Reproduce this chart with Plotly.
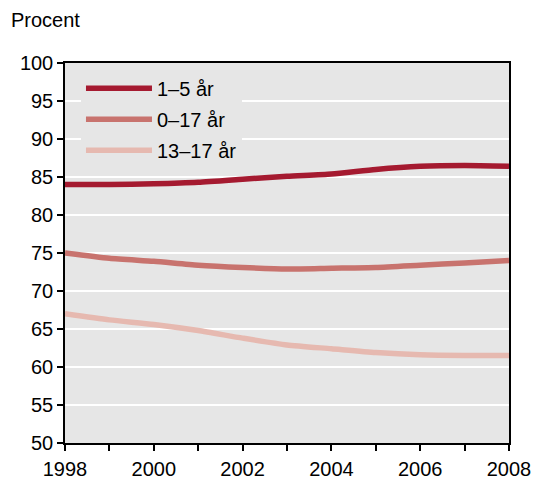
import plotly.graph_objects as go

years = [1998, 1999, 2000, 2001, 2002, 2003, 2004, 2005, 2006, 2007, 2008]
age_1_5 = [84.0, 84.0, 84.1, 84.3, 84.7, 85.1, 85.4, 86.0, 86.4, 86.5, 86.4]
age_0_17 = [75.0, 74.3, 73.9, 73.4, 73.1, 72.9, 73.0, 73.1, 73.4, 73.7, 74.0]
age_13_17 = [67.0, 66.2, 65.6, 64.8, 63.8, 62.9, 62.4, 61.9, 61.6, 61.5, 61.5]
series_names = ["1–5 år", "0–17 år", "13–17 år"]
colors = ["#A51A30", "#C8736E", "#E6B9B0"]
y_ticks = [50, 55, 60, 65, 70, 75, 80, 85, 90, 95, 100]
x_ticktext = [str(y) if y % 2 == 0 else "" for y in years]

fig = go.Figure()
for name, vals, col in zip(series_names, [age_1_5, age_0_17, age_13_17], colors):
    fig.add_trace(go.Scatter(x=years, y=vals, name=name, mode="lines", legendgroup=name,
                             line=dict(color=col, width=5.5, shape="spline", smoothing=0.6)))

font = dict(family="Liberation Sans, Arial, sans-serif", size=20, color="#000000")
fig.update_layout(
    width=534, height=481,
    autosize=False,
    margin=dict(l=65, r=25, t=63, b=38, autoexpand=False),
    paper_bgcolor="white",
    plot_bgcolor="#E6E6E6",
    font=font,
    showlegend=True,
    legend=dict(x=0.036, y=0.985, xanchor="left", yanchor="top",
                bgcolor="#E6E6E6", font=font, traceorder="grouped", tracegroupgap=2,
                itemwidth=66),
    xaxis=dict(range=[1998, 2008], tickmode="array", tickvals=years, ticktext=x_ticktext,
               automargin=False, ticklabelstandoff=1,
               showgrid=False, zeroline=False, showline=True, linecolor="black", linewidth=1.5,
               mirror=True, ticks="outside", ticklen=6, tickcolor="black", tickwidth=1.5,
               tickfont=font),
    yaxis=dict(range=[50, 100], tickmode="array", tickvals=y_ticks,
               automargin=False,
               showgrid=True, gridcolor="white", gridwidth=2, zeroline=False,
               showline=True, linecolor="black", linewidth=1.5, mirror=True,
               ticks="outside", ticklen=6, tickcolor="black", tickwidth=1.5,
               tickfont=font),
    annotations=[dict(text="Procent", xref="paper", yref="paper", x=-0.127, y=1.0,
                      xanchor="left", yanchor="bottom", yshift=30, showarrow=False, font=font)],
)
fig.write_html("out.html", config={"displayModeBar": False},
               post_script="document.body.style.margin='0';")
